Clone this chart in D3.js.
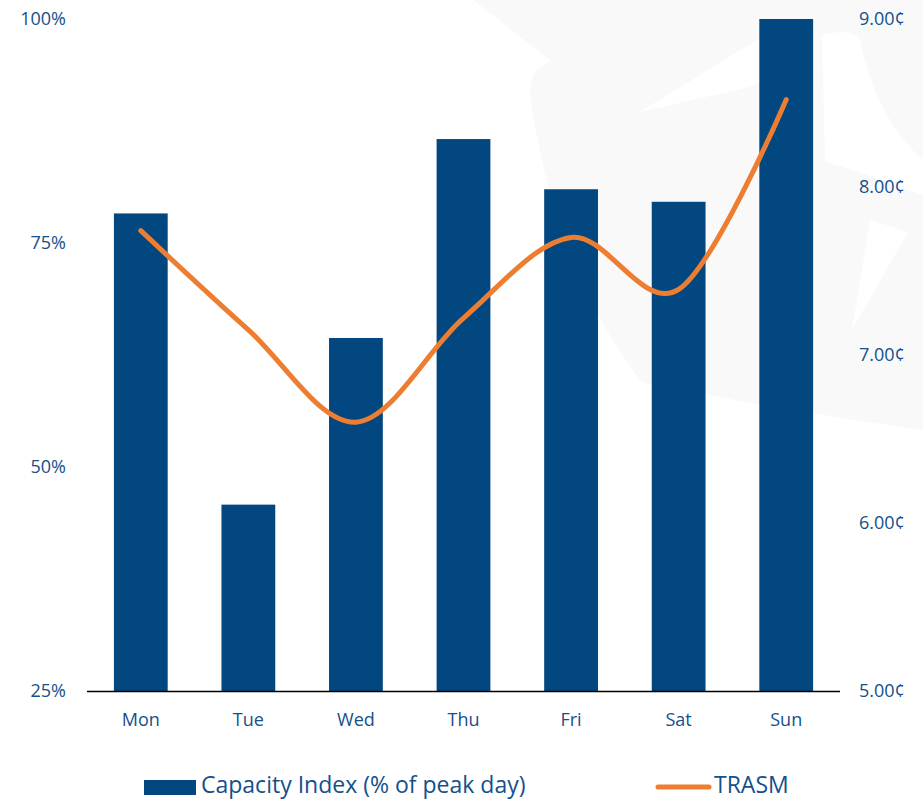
<!DOCTYPE html>
<html><head><meta charset="utf-8">
<script src="https://cdn.jsdelivr.net/npm/d3@7"></script>
<style>html,body{margin:0;padding:0;background:#fff;}svg{display:block;}</style>
</head><body>
<svg id="chart" width="923" height="799"></svg>
<script>
const days = ["Mon","Tue","Wed","Thu","Fri","Sat","Sun"];
const capacityIndex = [78.3, 45.8, 64.4, 86.6, 81.0, 79.6, 100];
const trasm = [7.74, 7.15, 6.60, 7.22, 7.70, 7.39, 8.52];
const leftTicks = [25, 50, 75, 100];
const rightTicks = [5, 6, 7, 8, 9];
const seriesNames = ["Capacity Index (% of peak day)", "TRASM"];

const svg = d3.select("#chart");
const font = "'Open Sans', sans-serif";
const textColor = "#15508a";
const barColor = "#02477f";
const lineColor = "#ed7d31";

// faint watermark
const wm = svg.append("g");
wm.append("path").attr("fill","#f9f9f9")
  .attr("d","M473,0 L923,0 L923,430 C850,420 760,405 643,383 C600,330 560,250 540,150 C530,100 520,70 552,62 Z");
wm.append("path").attr("fill","#fff")
  .attr("d","M822,35 C840,30 855,32 860,40 C870,90 890,130 923,160 L923,195 C890,185 860,170 825,162 Z");
wm.append("path").attr("fill","#fff")
  .attr("d","M640,112 L760,38 L790,70 L750,87 Z");
wm.append("path").attr("fill","#fff")
  .attr("d","M870,220 L908,232 L852,330 Z");

const m = {left:87, right:840, top:19, bottom:691};
const x = d3.scaleBand().domain(days).range([m.left, m.right]).paddingInner(0.5).paddingOuter(0.25);
const yL = d3.scaleLinear().domain([25,100]).range([m.bottom, m.top]);
const yR = d3.scaleLinear().domain([5,9]).range([m.bottom, m.top]);

svg.append("g").selectAll("rect").data(days).join("rect")
  .attr("x", d => x(d)).attr("width", x.bandwidth())
  .attr("y", (d,i) => yL(capacityIndex[i]))
  .attr("height", (d,i) => m.bottom - yL(capacityIndex[i]))
  .attr("fill", barColor);

// baseline
svg.append("line").attr("x1", m.left).attr("x2", m.right)
  .attr("y1", m.bottom+0.5).attr("y2", m.bottom+0.5)
  .attr("stroke","#000").attr("stroke-width",1.3);

const line = d3.line().x((d,i) => x(days[i]) + x.bandwidth()/2).y(d => yR(d))
  .curve(d3.curveCatmullRom.alpha(0));
svg.append("path").datum(trasm).attr("d", line)
  .attr("fill","none").attr("stroke", lineColor).attr("stroke-width",5)
  .attr("stroke-linecap","round").attr("stroke-linejoin","round");

// left axis
const axL = d3.axisLeft(yL).tickValues(leftTicks).tickSize(0).tickPadding(0).tickFormat(d => d + "%");
const gL = svg.append("g").attr("transform","translate(66,0)").call(axL);
gL.select(".domain").remove();
gL.selectAll("text").attr("font-family", font).attr("font-size",18).attr("fill",textColor);

// right axis
const axR = d3.axisRight(yR).tickValues(rightTicks).tickSize(0).tickPadding(0).tickFormat(d => d3.format(".2f")(d) + "¢");
const gR = svg.append("g").attr("transform","translate(859,0)").call(axR);
gR.select(".domain").remove();
gR.selectAll("text").attr("font-family", font).attr("font-size",18).attr("fill",textColor);

// bottom axis
const axB = d3.axisBottom(x).tickSize(0).tickPadding(0);
const gB = svg.append("g").attr("transform","translate(0,713)").call(axB);
gB.select(".domain").remove();
gB.selectAll("text").attr("font-family", font).attr("font-size",18).attr("fill",textColor);

// legend
const lg = svg.append("g");
lg.append("rect").attr("x",144).attr("y",780).attr("width",52).attr("height",15).attr("fill",barColor);
lg.append("text").attr("x",201).attr("y",793).text(seriesNames[0])
  .attr("font-family", font).attr("font-size",23).attr("fill",textColor);
lg.append("line").attr("x1",658).attr("x2",709).attr("y1",787).attr("y2",787)
  .attr("stroke",lineColor).attr("stroke-width",5).attr("stroke-linecap","round");
lg.append("text").attr("x",714).attr("y",793).text(seriesNames[1])
  .attr("font-family", font).attr("font-size",23).attr("fill",textColor);
</script>
</body></html>
